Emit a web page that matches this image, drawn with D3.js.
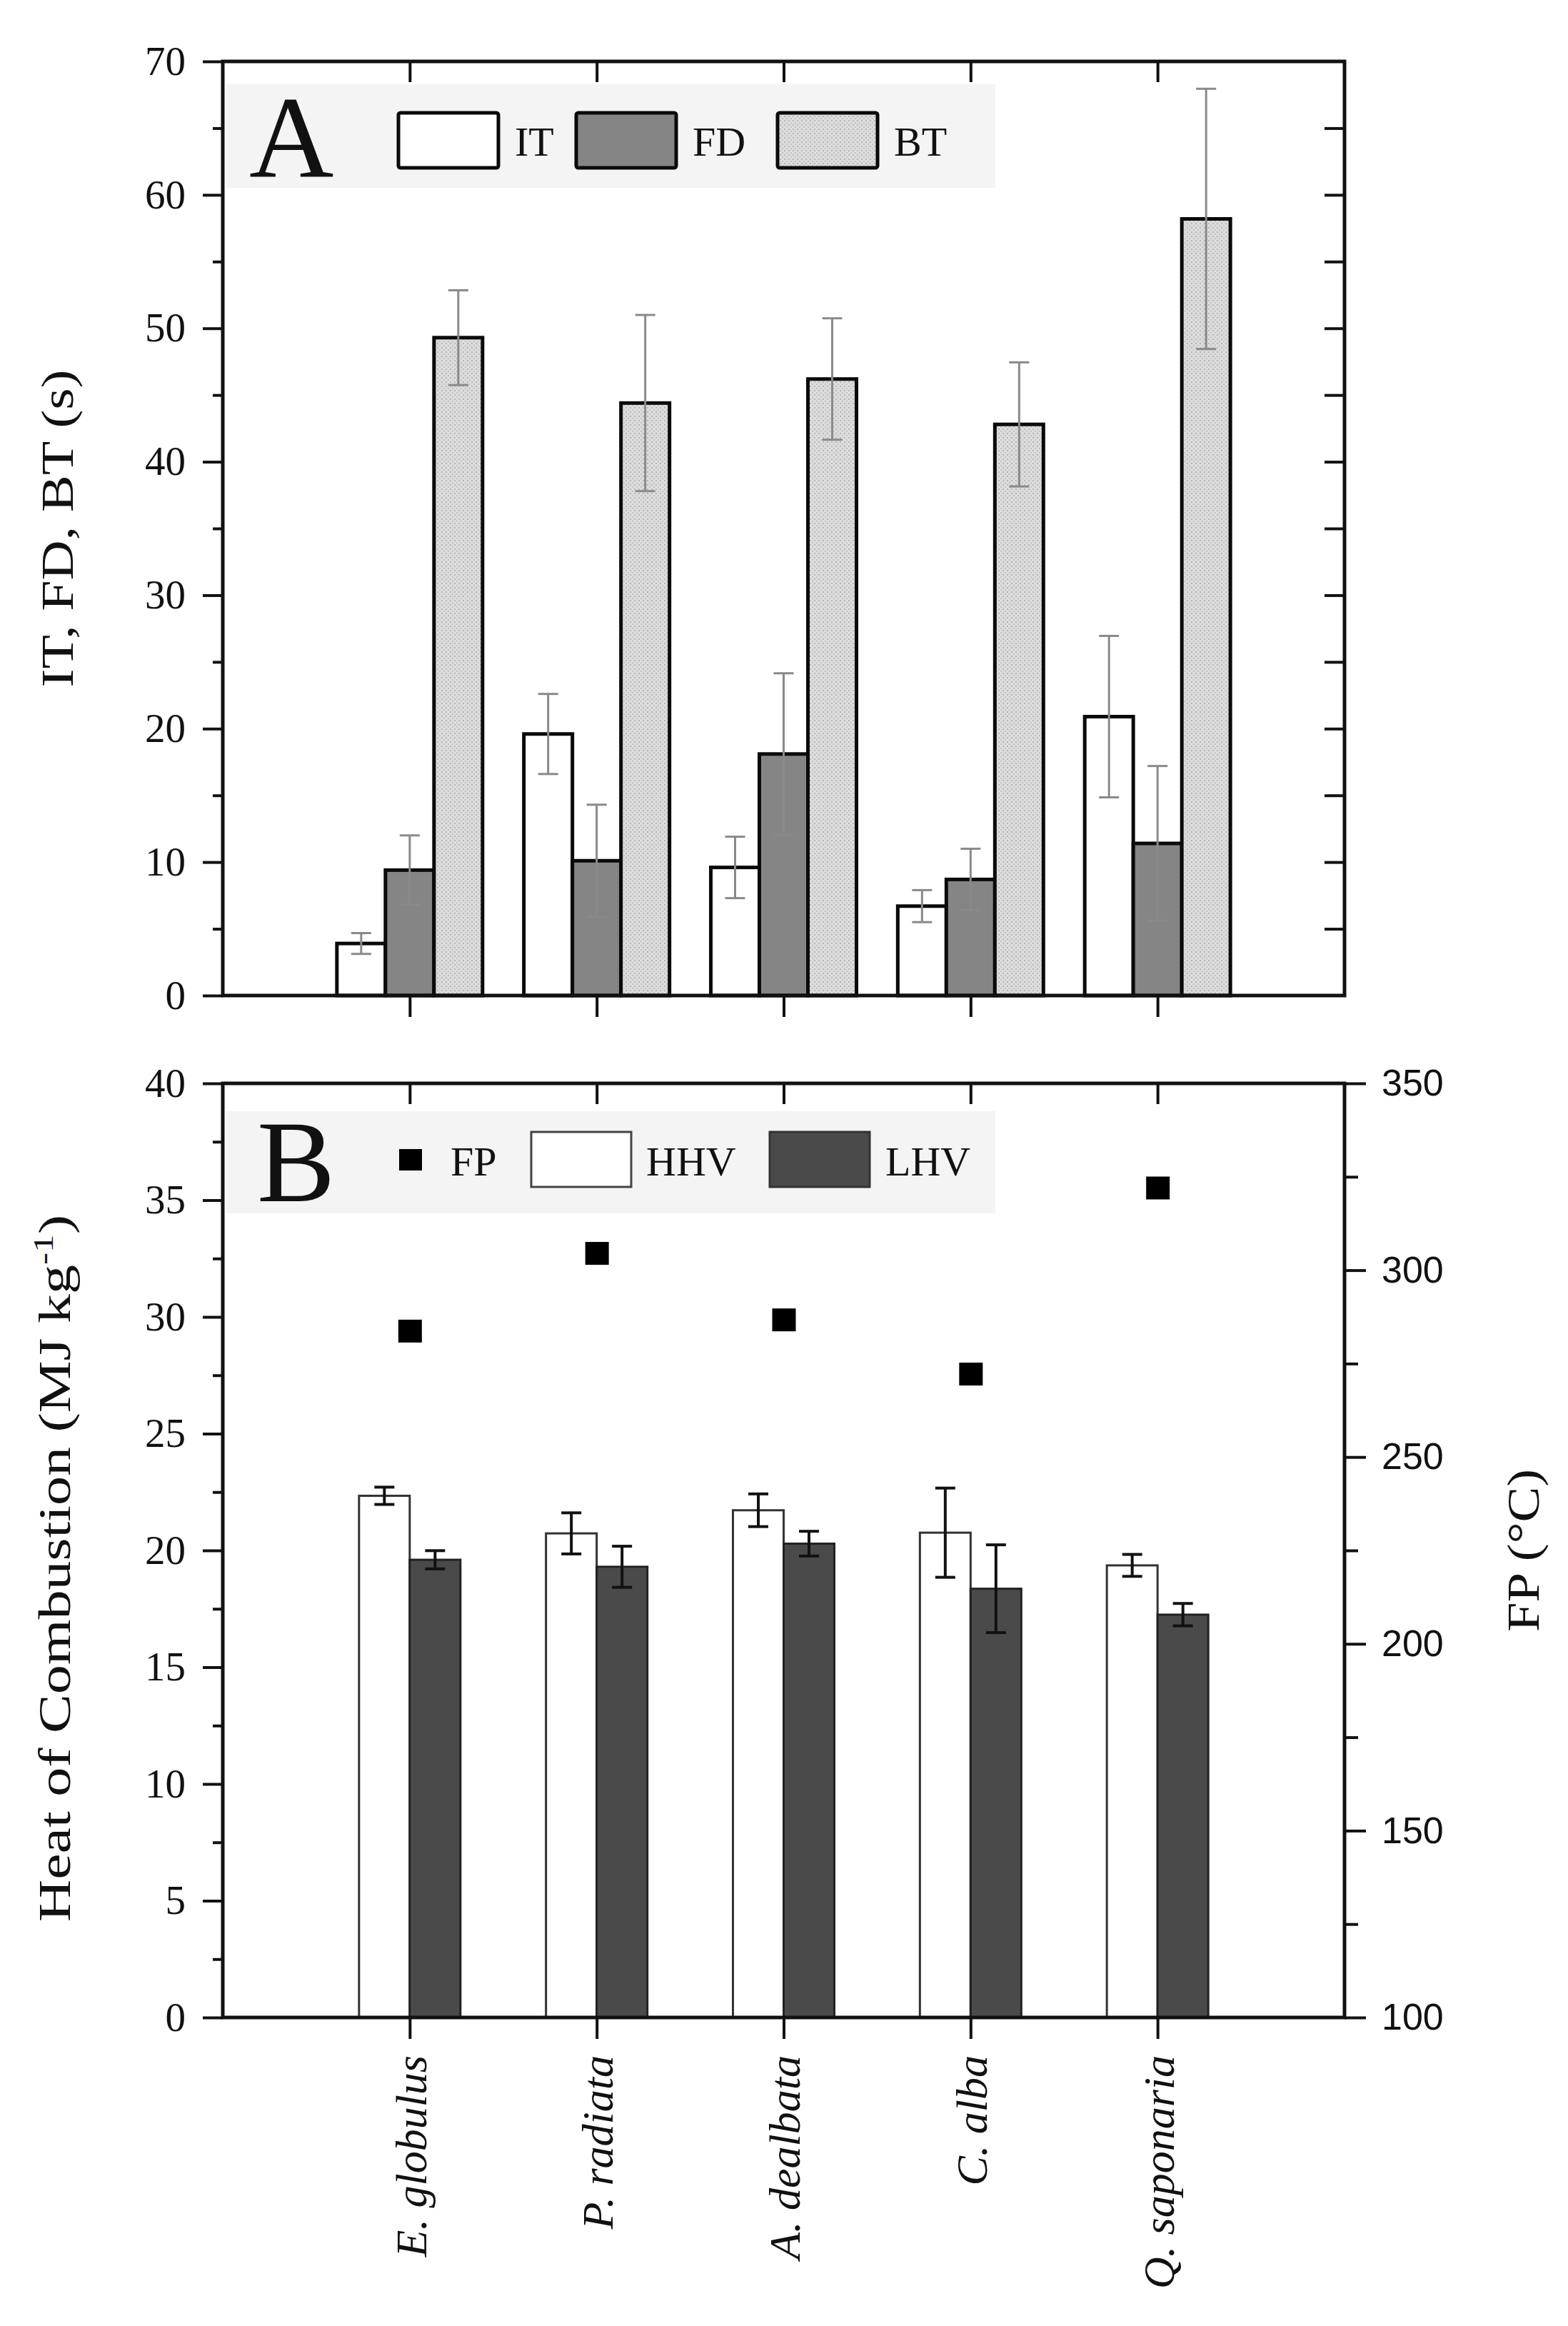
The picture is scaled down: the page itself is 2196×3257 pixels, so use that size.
<!DOCTYPE html>
<html>
<head>
<meta charset="utf-8">
<script src="https://cdn.jsdelivr.net/npm/d3@7"></script>
<style>
  body { margin: 0; background: #fff; }
  text { font-family: "Liberation Serif", "DejaVu Serif", serif; fill: #111; }
</style>
</head>
<body>
<div id="chart"></div>
<script>
// data
var species = ["E. globulus", "P. radiata", "A. dealbata", "C. alba", "Q. saponaria"];

// panel A (s)
var itMean = [3.9, 19.6, 9.6, 6.7, 20.9];
var itErr  = [0.78, 3.0, 2.3, 1.2, 6.05];
var fdMean = [9.4, 10.1, 18.1, 8.7, 11.4];
var fdErr  = [2.6, 4.2, 6.05, 2.3, 5.8];
var btMean = [49.3, 44.4, 46.2, 42.8, 58.2];
var btErr  = [3.55, 6.6, 4.55, 4.65, 9.75];

// panel B (MJ kg-1 and °C)
var hhvMean = [22.34, 20.73, 21.72, 20.76, 19.36];
var hhvErr  = [0.37, 0.88, 0.7, 1.91, 0.47];
var lhvMean = [19.6, 19.3, 20.29, 18.36, 17.25];
var lhvErr  = [0.39, 0.88, 0.53, 1.88, 0.48];
var fpVal   = [283.7, 304.5, 286.7, 272.2, 322.0];

var ticksA = [0, 10, 20, 30, 40, 50, 60, 70];
var ticksB = [0, 5, 10, 15, 20, 25, 30, 35, 40];
var ticksFP = [100, 150, 200, 250, 300, 350];

// layout
var W = 2196, H = 3257;
var left = 312, right = 1883;
var aTop = 86, aBot = 1394, bTop = 1517, bBot = 2825;

var svg = d3.select("#chart").append("svg")
    .attr("width", W)
    .attr("height", H);

svg.append("rect").attr("width", W).attr("height", H).attr("fill", "#fff");

// stipple pattern for BT
var defs = svg.append("defs");
var pat = defs.append("pattern")
    .attr("id", "stipple")
    .attr("width", 6).attr("height", 6)
    .attr("patternUnits", "userSpaceOnUse");
pat.append("rect").attr("width", 6).attr("height", 6).attr("fill", "#dcdcdc");
pat.append("rect").attr("x", 0).attr("y", 0).attr("width", 2).attr("height", 2).attr("fill", "#b8b8b8");
pat.append("rect").attr("x", 3).attr("y", 3).attr("width", 2).attr("height", 2).attr("fill", "#c4c4c4");

// shared x scale
var x = d3.scalePoint()
    .domain(species)
    .range([left, right])
    .padding(1);

var xA = d3.scaleBand().domain(["IT", "FD", "BT"]).range([-102, 102]);
var xB = d3.scaleBand().domain(["HHV", "LHV"]).range([-71, 71]);

var yA = d3.scaleLinear().domain([0, 70]).range([aBot, aTop]);
var yB = d3.scaleLinear().domain([0, 40]).range([bBot, bTop]);
var yFP = d3.scaleLinear().domain([100, 350]).range([bBot, bTop]);

function styleAxis(g, w) {
  g.attr("font-family", "'Liberation Serif', serif");
  g.select(".domain").remove();
  g.selectAll(".tick line").attr("stroke", "#111").attr("stroke-width", w || 4);
  g.selectAll(".tick text")
    .style("font-family", "'Liberation Serif', serif")
    .style("font-size", "57px")
    .attr("fill", "#111");
}

// ---------- Panel A ----------
var gA = svg.append("g");

// legend background
gA.append("rect")
    .attr("x", 317).attr("y", 118)
    .attr("width", 1077).attr("height", 145)
    .attr("fill", "#f4f4f4");

// minor + major ticks, left
gA.append("g").attr("transform", "translate(" + left + ",0)")
    .call(d3.axisLeft(yA).tickValues(d3.range(5, 70, 10)).tickSize(14).tickFormat(""))
    .call(styleAxis);
gA.append("g").attr("transform", "translate(" + left + ",0)")
    .call(d3.axisLeft(yA).tickValues(ticksA).tickSize(28).tickPadding(24).tickFormat(d3.format("d")))
    .call(styleAxis);
// right ticks inward
gA.append("g").attr("transform", "translate(" + right + ",0)")
    .call(d3.axisLeft(yA).tickValues(d3.range(5, 70, 5)).tickSize(28).tickFormat(""))
    .call(styleAxis);
// top ticks inward
gA.append("g").attr("transform", "translate(0," + aTop + ")")
    .call(d3.axisBottom(x).tickSize(29).tickFormat(""))
    .call(styleAxis);
// bottom ticks outward
gA.append("g").attr("transform", "translate(0," + aBot + ")")
    .call(d3.axisBottom(x).tickSize(30).tickFormat(""))
    .call(styleAxis);

var seriesA = [
  {key: "IT", mean: itMean, err: itErr, fill: "#ffffff"},
  {key: "FD", mean: fdMean, err: fdErr, fill: "#858585"},
  {key: "BT", mean: btMean, err: btErr, fill: "url(#stipple)"}
];

seriesA.forEach(function(s) {
  var g = gA.append("g");
  g.selectAll("rect")
    .data(species)
    .enter().append("rect")
      .attr("x", function(d) { return x(d) + xA(s.key); })
      .attr("y", function(d, i) { return yA(s.mean[i]); })
      .attr("width", xA.bandwidth())
      .attr("height", function(d, i) { return yA(0) - yA(s.mean[i]); })
      .attr("fill", s.fill)
      .attr("stroke", "#0a0a0a")
      .attr("stroke-width", 5);
});

seriesA.forEach(function(s) {
  var g = gA.append("g").attr("stroke", "#8a8a8a").attr("stroke-width", 3);
  species.forEach(function(d, i) {
    var cx = x(d) + xA(s.key) + xA.bandwidth() / 2;
    var hi = yA(s.mean[i] + s.err[i]), lo = yA(s.mean[i] - s.err[i]);
    g.append("line").attr("x1", cx).attr("x2", cx).attr("y1", hi).attr("y2", lo);
    g.append("line").attr("x1", cx - 14).attr("x2", cx + 14).attr("y1", hi).attr("y2", hi);
    g.append("line").attr("x1", cx - 14).attr("x2", cx + 14).attr("y1", lo).attr("y2", lo);
  });
});

// frame
gA.append("rect")
    .attr("x", left).attr("y", aTop)
    .attr("width", right - left).attr("height", aBot - aTop)
    .attr("fill", "none").attr("stroke", "#111").attr("stroke-width", 5);

// legend A
gA.append("text").attr("x", 349).attr("y", 247)
    .style("font-size", "164px").text("A");
var legA = [
  {label: "IT", x: 558, fill: "#ffffff"},
  {label: "FD", x: 807, fill: "#858585"},
  {label: "BT", x: 1089, fill: "url(#stipple)"}
];
legA.forEach(function(l) {
  gA.append("rect").attr("x", l.x).attr("y", 158)
      .attr("width", 140).attr("height", 77).attr("rx", 3)
      .attr("fill", l.fill).attr("stroke", "#0a0a0a").attr("stroke-width", 5);
  gA.append("text").attr("x", l.x + 163).attr("y", 218)
      .style("font-size", "58px").text(l.label);
});

gA.append("text")
    .attr("transform", "translate(102," + ((aTop + aBot) / 2) + ") rotate(-90)")
    .attr("text-anchor", "middle")
    .attr("textLength", 445).attr("lengthAdjust", "spacingAndGlyphs")
    .style("font-size", "64px")
    .text("IT, FD, BT (s)");

// ---------- Panel B ----------
var gB = svg.append("g");

gB.append("rect")
    .attr("x", 317).attr("y", 1556)
    .attr("width", 1077).attr("height", 143)
    .attr("fill", "#f4f4f4");

gB.append("g").attr("transform", "translate(" + left + ",0)")
    .call(d3.axisLeft(yB).tickValues(d3.range(2.5, 40, 5)).tickSize(14).tickFormat(""))
    .call(styleAxis);
gB.append("g").attr("transform", "translate(" + left + ",0)")
    .call(d3.axisLeft(yB).tickValues(ticksB).tickSize(28).tickPadding(24).tickFormat(d3.format("d")))
    .call(styleAxis);

gB.append("g").attr("transform", "translate(" + right + ",0)")
    .call(d3.axisRight(yFP).tickValues(d3.range(125, 350, 50)).tickSize(19).tickFormat(""))
    .call(styleAxis);
var fpAxis = gB.append("g").attr("transform", "translate(" + right + ",0)")
    .call(d3.axisRight(yFP).tickValues(ticksFP).tickSize(30).tickPadding(22).tickFormat(d3.format("d")))
    .call(styleAxis);
fpAxis.selectAll(".tick text")
    .style("font-family", "'Liberation Sans', Arial, sans-serif")
    .style("font-size", "52px")
    .attr("fill", "#222");

gB.append("g").attr("transform", "translate(0," + bTop + ")")
    .call(d3.axisBottom(x).tickSize(29).tickFormat(""))
    .call(styleAxis);
var xAxisB = gB.append("g").attr("transform", "translate(0," + bBot + ")")
    .call(d3.axisBottom(x).tickSize(30))
    .call(styleAxis);
xAxisB.selectAll(".tick text")
    .attr("transform", "rotate(-90)")
    .attr("x", -53).attr("y", 0).attr("dy", "0.36em")
    .attr("text-anchor", "end")
    .style("font-style", "italic")
    .style("font-size", "62px");

var seriesB = [
  {key: "HHV", mean: hhvMean, err: hhvErr, fill: "#ffffff", stroke: "#333", sw: 3},
  {key: "LHV", mean: lhvMean, err: lhvErr, fill: "#4a4a4a", stroke: "#222", sw: 3}
];

seriesB.forEach(function(s) {
  gB.append("g").selectAll("rect")
    .data(species)
    .enter().append("rect")
      .attr("x", function(d) { return x(d) + xB(s.key); })
      .attr("y", function(d, i) { return yB(s.mean[i]); })
      .attr("width", xB.bandwidth())
      .attr("height", function(d, i) { return yB(0) - yB(s.mean[i]); })
      .attr("fill", s.fill)
      .attr("stroke", s.stroke)
      .attr("stroke-width", s.sw);
});

seriesB.forEach(function(s) {
  var g = gB.append("g").attr("stroke", "#111").attr("stroke-width", 4);
  species.forEach(function(d, i) {
    var cx = x(d) + xB(s.key) + xB.bandwidth() / 2;
    var hi = yB(s.mean[i] + s.err[i]), lo = yB(s.mean[i] - s.err[i]);
    g.append("line").attr("x1", cx).attr("x2", cx).attr("y1", hi).attr("y2", lo);
    g.append("line").attr("x1", cx - 14).attr("x2", cx + 14).attr("y1", hi).attr("y2", hi);
    g.append("line").attr("x1", cx - 14).attr("x2", cx + 14).attr("y1", lo).attr("y2", lo);
  });
});

// FP squares
gB.append("g").selectAll("rect")
  .data(species)
  .enter().append("rect")
    .attr("x", function(d) { return x(d) - 16; })
    .attr("y", function(d, i) { return yFP(fpVal[i]) - 16; })
    .attr("width", 33).attr("height", 32)
    .attr("fill", "#000");

gB.append("rect")
    .attr("x", left).attr("y", bTop)
    .attr("width", right - left).attr("height", bBot - bTop)
    .attr("fill", "none").attr("stroke", "#111").attr("stroke-width", 5);

// legend B
gB.append("text").attr("x", 360).attr("y", 1682)
    .style("font-size", "164px").text("B");
gB.append("rect").attr("x", 559).attr("y", 1609).attr("width", 32).attr("height", 30).attr("fill", "#000");
gB.append("text").attr("x", 631).attr("y", 1646).style("font-size", "58px").text("FP");
gB.append("rect").attr("x", 744).attr("y", 1585).attr("width", 140).attr("height", 77)
    .attr("fill", "#fff").attr("stroke", "#444").attr("stroke-width", 3);
gB.append("text").attr("x", 905).attr("y", 1646).style("font-size", "58px").text("HHV");
gB.append("rect").attr("x", 1078).attr("y", 1585).attr("width", 140).attr("height", 77)
    .attr("fill", "#4a4a4a").attr("stroke", "#333").attr("stroke-width", 3);
gB.append("text").attr("x", 1240).attr("y", 1646).style("font-size", "58px").text("LHV");

var yt = gB.append("text")
    .attr("transform", "translate(98,2196) rotate(-90)")
    .attr("text-anchor", "middle")
    .attr("textLength", 990).attr("lengthAdjust", "spacingAndGlyphs")
    .style("font-size", "64px");
yt.append("tspan").text("Heat of Combustion (MJ kg");
yt.append("tspan").attr("dy", -24).style("font-size", "40px").text("-1");
yt.append("tspan").attr("dy", 24).text(")");

gB.append("text")
    .attr("transform", "translate(2155,2171) rotate(-90)")
    .attr("text-anchor", "middle")
    .attr("textLength", 228).attr("lengthAdjust", "spacingAndGlyphs")
    .style("font-size", "64px")
    .text("FP (°C)");
</script>
</body>
</html>
